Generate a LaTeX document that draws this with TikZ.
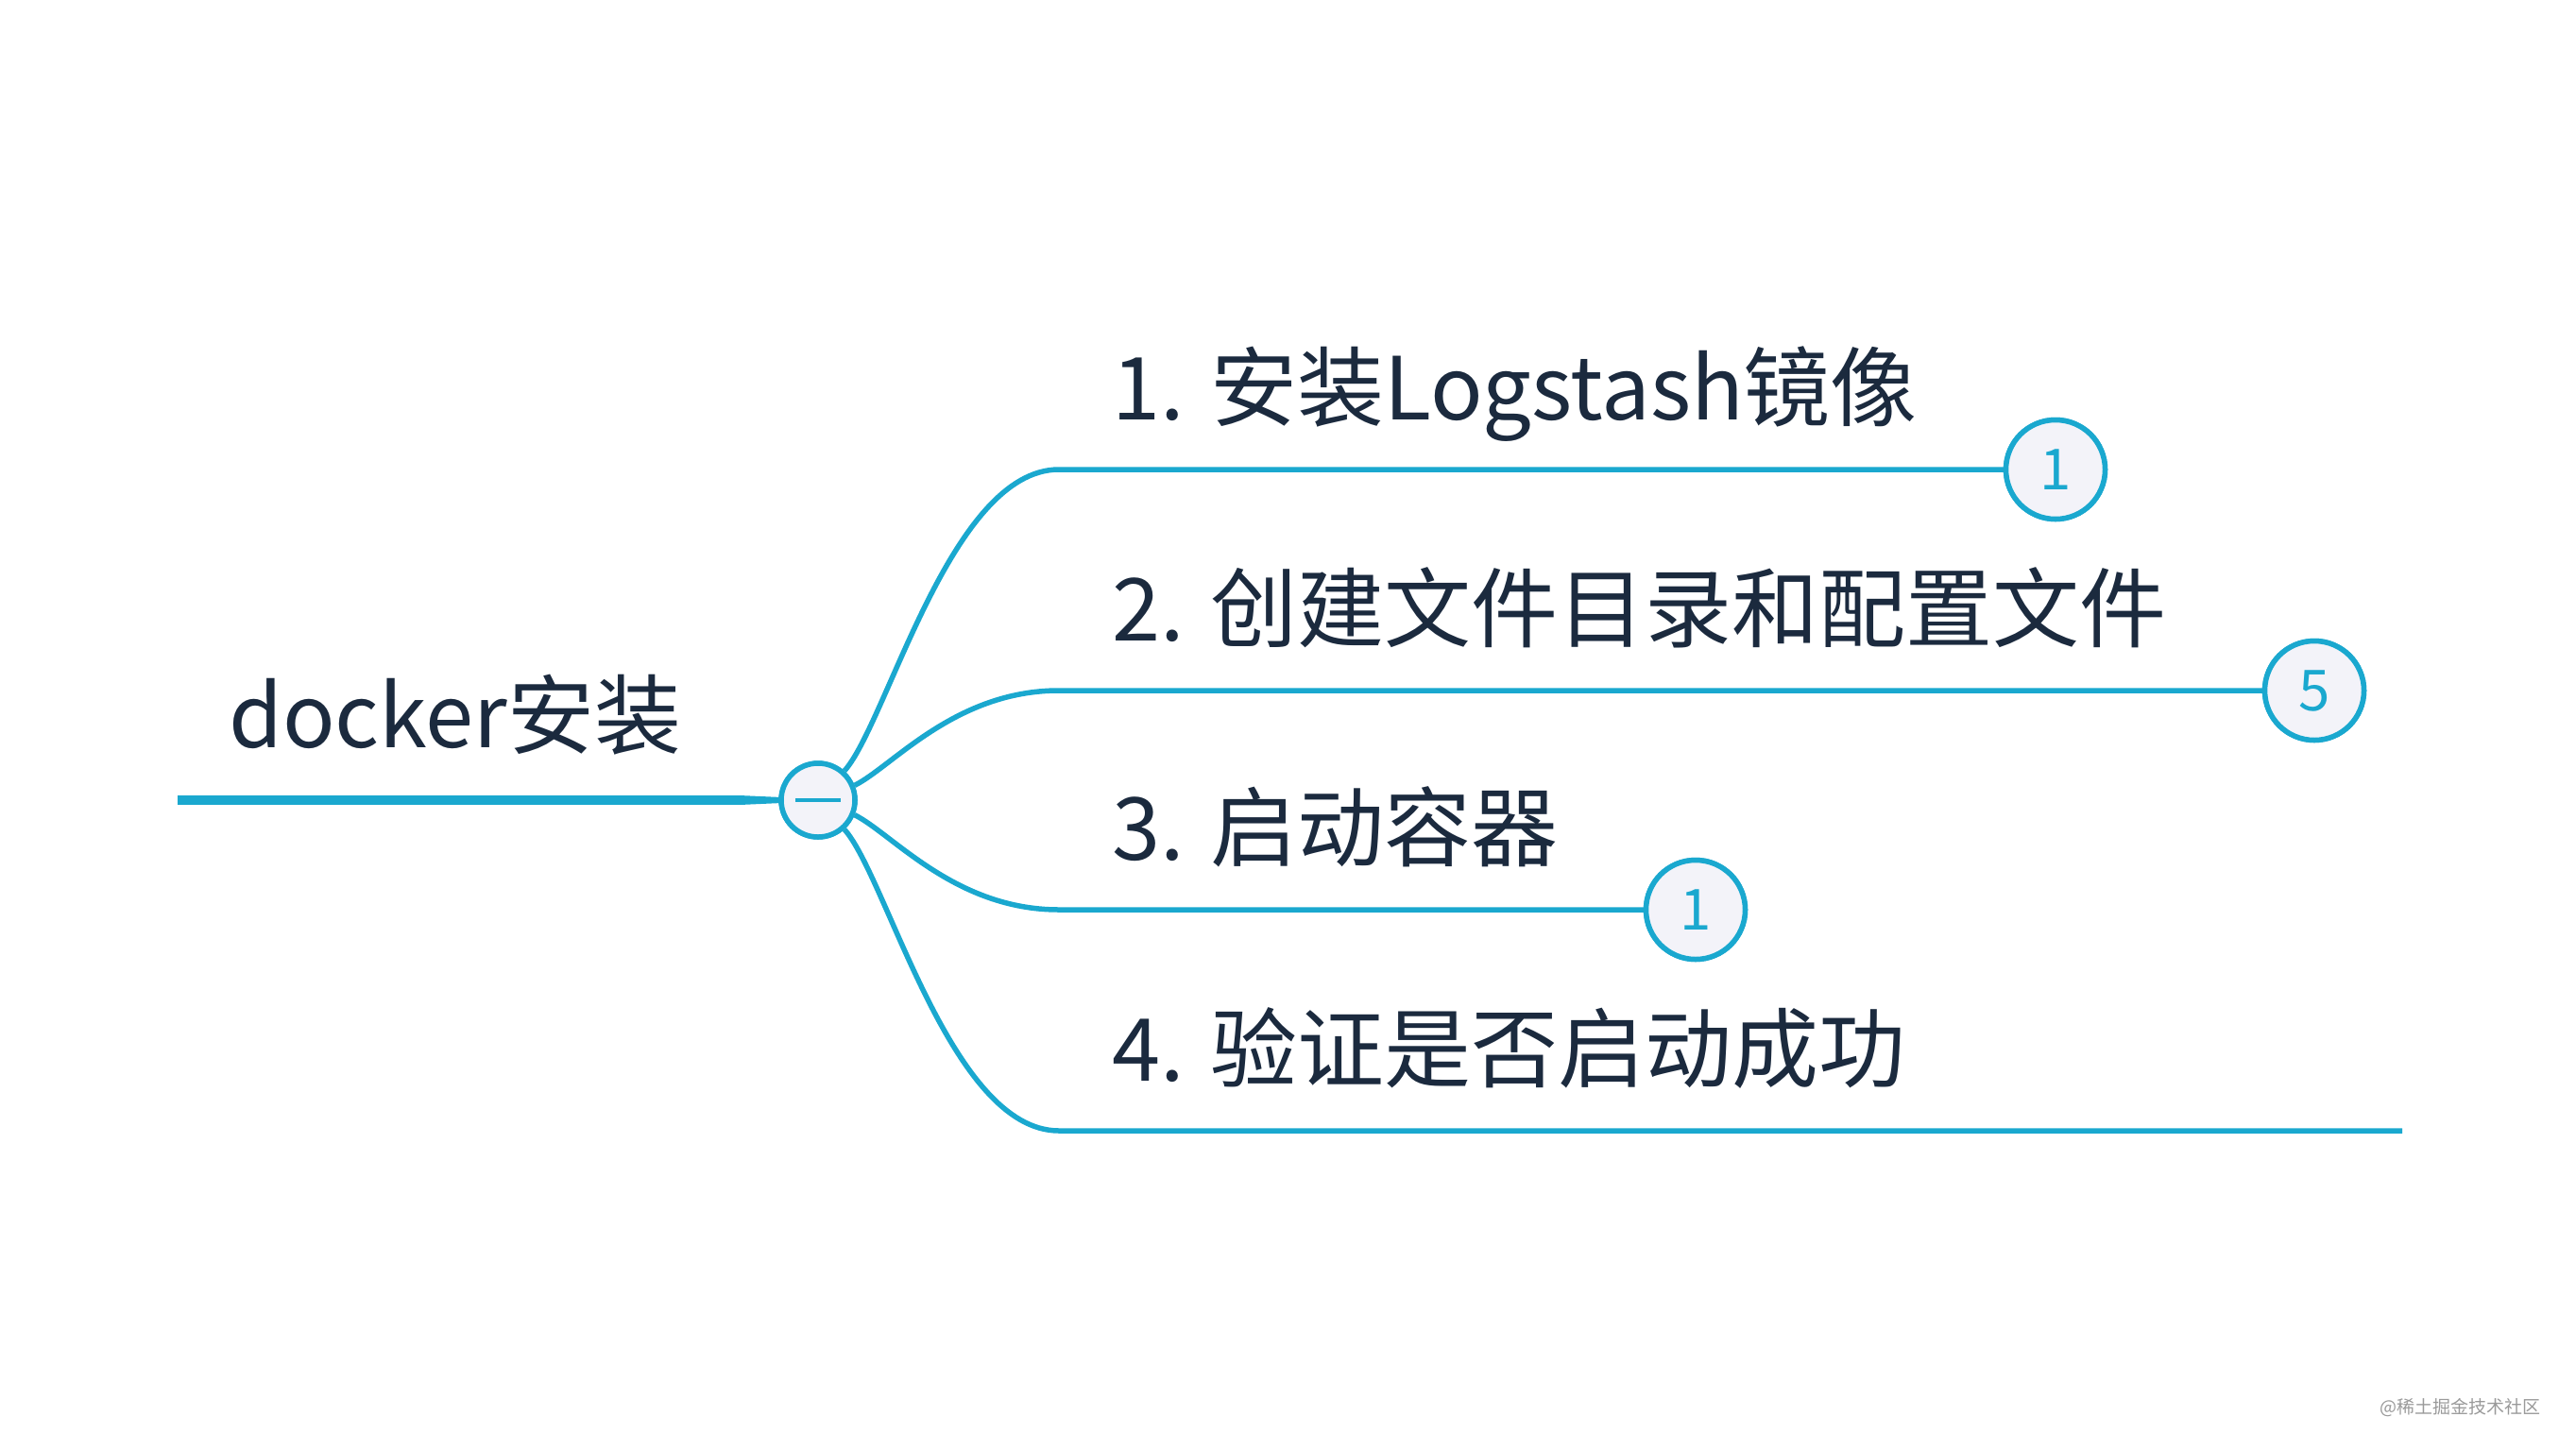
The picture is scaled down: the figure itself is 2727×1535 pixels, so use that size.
\documentclass[tikz,border=0pt]{standalone}
\usepackage{fontspec}
\setmainfont{Noto Sans CJK SC}
\usetikzlibrary{calc}
\definecolor{linecyan}{HTML}{1AA8CF}
\definecolor{txtnavy}{HTML}{1B2A3E}
\definecolor{badgefill}{HTML}{F3F3F9}
\definecolor{wmgray}{HTML}{9A9A9A}
\begin{document}
\begin{tikzpicture}[x=1pt,y=-1pt,
  branchline/.style={draw=linecyan,line width=5.5pt},
  itemtext/.style={anchor=base west,inner sep=0pt,text=txtnavy,font=\fontsize{92}{110}\selectfont},
  badge/.style={circle,draw=linecyan,line width=5.5pt,fill=badgefill,minimum size=105pt,inner sep=0pt,text=linecyan,font=\fontsize{60}{70}\selectfont},
  togglebtn/.style={circle,draw=linecyan,line width=5.5pt,fill=badgefill,minimum size=78pt,inner sep=0pt}]
\fill[white] (0,0) rectangle (2727,1535);
\useasboundingbox (0,0) rectangle (2727,1535);

% root
\node[itemtext] (root) at (242,791) {docker安装};
\coordinate (rl) at (188,847);
\coordinate (rr) at (783,847);
\draw[linecyan,line width=10pt] (rl) -- (rr);
\fill[linecyan] ($(rr)+(0,-5)$) -- ($(rr)+(0,5)$) -- ($(rr)+(50,2.75)$) -- ($(rr)+(50,-2.75)$) -- cycle;

% branch ends
\coordinate (s1) at (1121,497);
\coordinate (s2) at (1121,731);
\coordinate (s3) at (1121,963);
\coordinate (s4) at (1121,1197);
\coordinate (e4) at (2543,1197);

\node[togglebtn] (tg) at (866,847) {};

\node[badge] (b1) at (2176,497) {1};
\node[badge] (b2) at (2450,731) {5};
\node[badge] (b3) at (1795,963) {1};

\draw[branchline] (tg.48) .. controls ($(tg.48)+(45,-50)$) and ($(s1)+(-115,0)$) .. (s1) -- (b1.west);
\draw[branchline] (tg.22) .. controls ($(tg.22)+(40,-20)$) and ($(s2)+(-110,0)$) .. (s2) -- (b2.west);
\draw[branchline] (tg.-22) .. controls ($(tg.-22)+(40,20)$) and ($(s3)+(-110,0)$) .. (s3) -- (b3.west);
\draw[branchline] (tg.-48) .. controls ($(tg.-48)+(45,50)$) and ($(s4)+(-115,0)$) .. (s4) -- (e4);

% redraw toggle and badges on top
\node[togglebtn] at (tg.center) {};
\draw[linecyan,line width=4.5pt] ($(tg.center)+(-24,0)$) -- ($(tg.center)+(24,0)$);
\node[badge] at (b1.center) {1};
\node[badge] at (b2.center) {5};
\node[badge] at (b3.center) {1};

% labels
\node[itemtext] (l1) at (1177,444) {1. 安装Logstash镜像};
\node[itemtext] (l2) at (1177,678) {2. 创建文件目录和配置文件};
\node[itemtext] (l3) at (1177,910) {3. 启动容器};
\node[itemtext] (l4) at (1177,1144) {4. 验证是否启动成功};

% watermark
\node[anchor=base east,inner sep=0pt,text=wmgray,font=\fontsize{19}{22}\selectfont] (wm) at (2690,1496) {@稀土掘金技术社区};
\end{tikzpicture}
\end{document}
